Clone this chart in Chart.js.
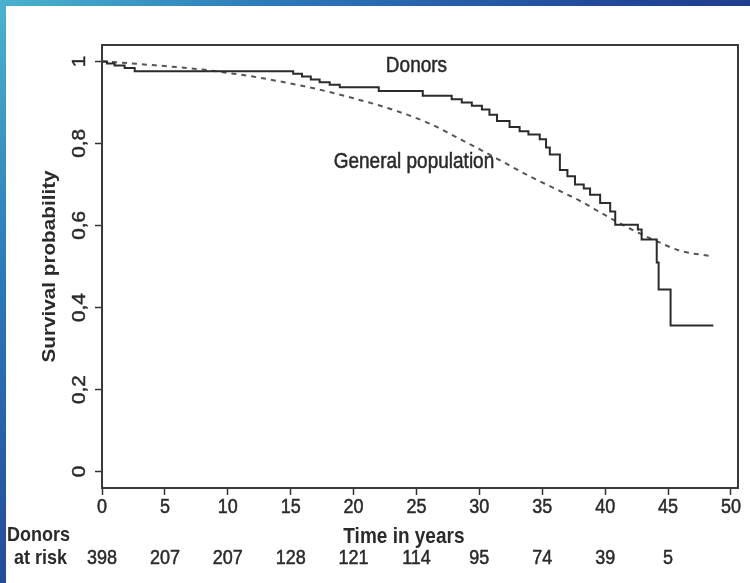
<!DOCTYPE html>
<html>
<head>
<meta charset="UTF-8">
<title>Donor survival</title>
<script src="https://cdn.jsdelivr.net/npm/chart.js@4.4.1/dist/chart.umd.min.js"></script>
<style>
    html, body { margin: 0; padding: 0; }
    body {
        width: 750px; height: 583px; overflow: hidden; position: relative;
        background: linear-gradient(135deg, #4ab3cf 0%, #2c7bba 20%, #22499b 45%, #1c2f80 70%, #18266e 100%);
    }
    #panel { position: absolute; left: 6px; top: 6px; right: 0; bottom: 0; background: #fff; }
    #wrap { position: absolute; left: 0; top: 0; width: 750px; height: 583px; }
</style>
</head>
<body>
<div id="panel"></div>
<div id="wrap"><canvas id="survivalCanvas" width="750" height="583"></canvas></div>
<script>
// Kaplan-Meier curve for donors (time of step, survival after step)
var donorTime = [0, 0.4, 1.0, 1.8, 2.6, 15.2, 15.9, 16.6, 17.3, 18.1, 18.9, 22.0, 25.5, 27.8, 28.6, 29.4, 30.2, 30.8, 31.4, 32.4, 33.2, 33.9, 34.8, 35.3, 35.6, 36.4, 37.0, 37.6, 38.3, 38.8, 39.6, 40.4, 40.8, 42.6, 42.9, 44.1, 44.25, 45.2, 48.6];
var donorSurv = [1.0, 0.995, 0.99, 0.984, 0.976, 0.97, 0.963, 0.956, 0.949, 0.943, 0.937, 0.928, 0.916, 0.908, 0.9, 0.892, 0.883, 0.87, 0.855, 0.84, 0.83, 0.822, 0.81, 0.79, 0.773, 0.735, 0.72, 0.70, 0.69, 0.675, 0.655, 0.634, 0.602, 0.59, 0.566, 0.51, 0.444, 0.356, 0.356];

// expected survival, general population
var popTime = [0, 2, 4, 6, 8, 10, 12, 14, 16, 18, 20, 22, 24, 26, 28, 30, 32, 34, 36, 38, 40, 42, 44, 46, 48.5];
var popSurv = [1.0, 0.996, 0.991, 0.986, 0.98, 0.972, 0.963, 0.952, 0.94, 0.926, 0.91, 0.893, 0.873, 0.849, 0.818, 0.786, 0.753, 0.72, 0.69, 0.66, 0.625, 0.592, 0.563, 0.538, 0.525];

// number at risk table
var riskTimes = [0, 5, 10, 15, 20, 25, 30, 35, 40, 45];
var atRisk = [398, 207, 207, 128, 121, 114, 95, 74, 39, 5];

var textColor = '#2a2a2a';
var fontFamily = '"Liberation Sans", Arial, sans-serif';

function putText(c, txt, x, y, size, opts) {
    opts = opts || {};
    c.save();
    c.translate(x, y);
    c.scale(1, 1.15);
    if (opts.rot) c.rotate(opts.rot);
    c.font = (opts.bold ? 'bold ' : '') + size + 'px ' + fontFamily;
    c.textAlign = opts.align || 'center';
    c.textBaseline = 'middle';
    c.fillStyle = textColor;
    c.fillText(txt, 0, 0);
    if (!opts.bold) {
        // the scan looks heavier than a plain regular face
        c.strokeStyle = textColor;
        c.lineWidth = 0.45;
        c.strokeText(txt, 0, 0);
    }
    c.restore();
}

var framePlugin = {
    id: 'frame',
    afterDatasetsDraw: function (chart) {
        var c = chart.ctx;
        var a = chart.chartArea;
        var xs = chart.scales.x;
        var ys = chart.scales.y;

        c.save();
        c.strokeStyle = '#3a3a3a';
        c.lineWidth = 2;
        c.strokeRect(a.left, a.top, a.right - a.left, a.bottom - a.top);
        c.restore();

        xs.ticks.forEach(function (t) {
            putText(c, String(t.value), xs.getPixelForValue(t.value), a.bottom + 19, 18);
        });
        ys.ticks.forEach(function (t) {
            var lab = String(Math.round(t.value * 10) / 10).replace('.', ',');
            putText(c, lab, a.left - 22, ys.getPixelForValue(t.value), 18, { rot: -Math.PI / 2 });
        });

        putText(c, 'Survival probability', 50, (a.top + a.bottom) / 2, 18, { rot: -Math.PI / 2, bold: true });
        putText(c, 'Time in years', xs.getPixelForValue(24), a.bottom + 49, 19, { bold: true });
        putText(c, 'Donors', 7, a.bottom + 47, 18, { bold: true, align: 'left' });
        putText(c, 'at risk', 14, a.bottom + 70, 18, { bold: true, align: 'left' });
        riskTimes.forEach(function (t, i) {
            putText(c, String(atRisk[i]), xs.getPixelForValue(t), a.bottom + 70, 18);
        });

        putText(c, 'Donors', xs.getPixelForValue(25), ys.getPixelForValue(0.99), 19);
        putText(c, 'General population', xs.getPixelForValue(24.8), ys.getPixelForValue(0.756), 19);
    }
};

window.onload = function () {
    var ctx = document.getElementById('survivalCanvas').getContext('2d');

    var axisGrid = {
        drawOnChartArea: false,
        drawTicks: true,
        tickLength: 7,
        tickColor: '#333',
        tickWidth: 1.5
    };

    window.survival = new Chart(ctx, {
        type: 'line',
        data: {
            datasets: [{
                    label: 'Donors',
                    data: donorTime.map(function (t, i) { return { x: t, y: donorSurv[i] }; }),
                    stepped: true,
                    borderColor: '#2b2b2b',
                    borderWidth: 2,
                    pointRadius: 0,
                    fill: false
                }, {
                    label: 'General population',
                    data: popTime.map(function (t, i) { return { x: t, y: popSurv[i] }; }),
                    borderColor: '#555555',
                    borderWidth: 2,
                    borderDash: [5, 5],
                    pointRadius: 0,
                    cubicInterpolationMode: 'monotone',
                    fill: false
                }]
        },
        options: {
            responsive: false,
            animation: false,
            layout: { padding: { left: 102, top: 45, right: 12, bottom: 95 } },
            plugins: {
                legend: { display: false },
                tooltip: { enabled: false }
            },
            scales: {
                x: {
                    type: 'linear',
                    min: 0,
                    max: 50.56,
                    afterFit: function (s) { s.height = 0; },
                    ticks: { display: false, stepSize: 5, includeBounds: false },
                    grid: axisGrid,
                    border: { display: false }
                },
                y: {
                    type: 'linear',
                    min: -0.04,
                    max: 1.04,
                    afterFit: function (s) { s.width = 0; },
                    ticks: { display: false, stepSize: 0.2, includeBounds: false },
                    grid: axisGrid,
                    border: { display: false }
                }
            }
        },
        plugins: [framePlugin]
    });
};
</script>
</body>
</html>
